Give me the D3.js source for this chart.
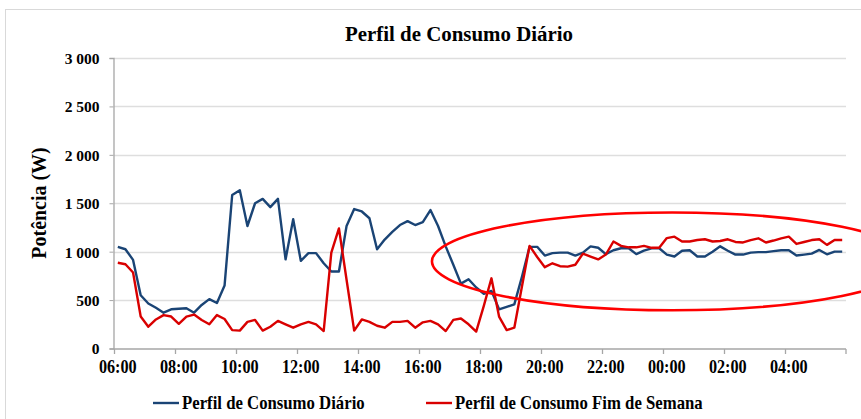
<!DOCTYPE html>
<html>
<head>
<meta charset="utf-8">
<script src="https://cdn.jsdelivr.net/npm/d3@7"></script>
<style>
    body { margin: 0; background: #fff; }
    text { font-family: "Liberation Serif", "Times New Roman", serif; font-weight: bold; fill: #000; }
</style>
</head>
<body>
<div id="chart"></div>
<script>
// 15-minute readings, 06:00 -> 05:45
var times = d3.range(96).map(function (i) {
    var m = (6 * 60 + i * 15) % (24 * 60);
    return d3.format("02d")(Math.floor(m / 60)) + ":" + d3.format("02d")(m % 60);
});

var diario = [
    1050, 1025, 915, 550, 465, 420, 370, 405, 410, 415, 370, 450, 510, 470, 650, 1585,
    1635, 1265, 1500, 1545, 1460, 1545, 920, 1335, 905, 985, 985, 880, 795, 795, 1265, 1440,
    1415, 1345, 1025, 1125, 1205, 1275, 1315, 1275, 1305, 1430, 1265, 1055, 865, 670, 715, 630,
    565, 595, 405, 430, 455, 740, 1050, 1050, 960, 985, 990, 990, 960, 990, 1055, 1040,
    975, 1015, 1035, 1035, 975, 1010, 1035, 1035, 970, 950, 1010, 1015, 950, 950, 1000, 1055,
    1010, 970, 970, 990, 995, 995, 1005, 1015, 1015, 960, 970, 980, 1018, 973, 1000, 1000
];

var fimSemana = [
    885, 870, 785, 330, 225, 300, 345, 330, 255, 330, 350, 295, 250, 345, 305, 190,
    185, 275, 295, 185, 225, 285, 250, 215, 250, 275, 250, 180, 990, 1240, 710, 185,
    300, 275, 235, 215, 275, 275, 285, 215, 270, 285, 250, 180, 295, 310, 250, 175,
    440, 725, 330, 190, 215, 640, 1060, 945, 840, 880, 850, 845, 865, 980, 950, 920,
    970, 1105, 1060, 1045, 1045, 1060, 1040, 1040, 1140, 1155, 1105, 1105, 1120, 1128, 1105, 1110,
    1128, 1100, 1095, 1120, 1138, 1095, 1115, 1138, 1155, 1080, 1100, 1120, 1128, 1070, 1120, 1120
];

var xTickLabels = ["06:00", "08:00", "10:00", "12:00", "14:00", "16:00",
                   "18:00", "20:00", "22:00", "00:00", "02:00", "04:00"];
var yTicks = [0, 500, 1000, 1500, 2000, 2500, 3000];

var seriesNames = ["Perfil de Consumo Diário", "Perfil de Consumo Fim de Semana"];
var seriesColors = ["#1a4475", "#d90000"];

var width = 861, height = 419;

var svg = d3.select("#chart").append("svg")
    .attr("width", width)
    .attr("height", height);

// the reference text looks a bit condensed, so squeeze it horizontally
function squeezed(sel, px, py, sx) {
    return sel.append("text")
        .attr("transform", "translate(" + px + "," + py + ") scale(" + sx + ",1)");
}

// chart area border (cropped at right and bottom)
svg.append("rect")
    .attr("x", 5.5).attr("y", 9.5)
    .attr("width", 900).attr("height", 500)
    .attr("fill", "none")
    .attr("stroke", "#d9d9d9");

var x = d3.scaleBand()
    .domain(times)
    .range([114, 846])
    .paddingInner(0).paddingOuter(0);
var xc = function (t) { return x(t) + x.bandwidth() / 2; };

var y = d3.scaleLinear()
    .domain([0, 3000])
    .range([348.5, 58]);

// gridlines
svg.append("g")
    .selectAll("line")
    .data(yTicks.filter(function (d) { return d > 0; }))
    .enter().append("line")
    .attr("x1", 114).attr("x2", 846)
    .attr("y1", function (d) { return Math.round(y(d)) + 0.5; })
    .attr("y2", function (d) { return Math.round(y(d)) + 0.5; })
    .attr("stroke", "#dedede")
    .attr("stroke-width", 1.3);

// y axis
var fmt = function (d) { return d3.format(",")(d).replace(",", " "); };
var yAxis = svg.append("g")
    .attr("transform", "translate(113.5,0)")
    .call(d3.axisLeft(y).tickValues(yTicks).tickFormat(fmt).tickSize(4).tickPadding(10));
yAxis.select(".domain").attr("stroke", "#a6a6a6").attr("stroke-width", 1.3);
yAxis.selectAll(".tick line").attr("stroke", "#a6a6a6");
yAxis.selectAll("text").style("font-size", "15.5px").attr("dy", "0.35em");

// x axis
var xAxisG = svg.append("g");
xAxisG.append("line")
    .attr("x1", 113.5).attr("x2", 846)
    .attr("y1", 349).attr("y2", 349)
    .attr("stroke", "#a6a6a6").attr("stroke-width", 1.3);

var tickBounds = times.filter(function (d, i) { return i % 8 === 0; });
xAxisG.selectAll(".xtick")
    .data(tickBounds.concat(["end"]))
    .enter().append("line")
    .attr("x1", function (d) { return d === "end" ? 846 : Math.round(x(d)) + 0.5; })
    .attr("x2", function (d) { return d === "end" ? 846 : Math.round(x(d)) + 0.5; })
    .attr("y1", 349).attr("y2", 354)
    .attr("stroke", "#a6a6a6").attr("stroke-width", 1.3);

xTickLabels.forEach(function (d) {
    squeezed(xAxisG, xc(d), 373, 0.9)
        .attr("text-anchor", "middle")
        .style("font-size", "18px")
        .text(d);
});

// lines
var line = d3.line()
    .x(function (d, i) { return xc(times[i]); })
    .y(function (d) { return y(d); });

[diario, fimSemana].forEach(function (s, k) {
    svg.append("path")
        .datum(s)
        .attr("d", line)
        .attr("fill", "none")
        .attr("stroke", seriesColors[k])
        .attr("stroke-width", 2.4)
        .attr("stroke-linejoin", "round");
});

// highlight ellipse (in data units: centre index / watts, radii)
var ellipse = {ci: 72.7, cv: 900, ri: 31.5, rv: 505};
var step = x.step();
svg.append("ellipse")
    .attr("cx", xc(times[0]) + ellipse.ci * step)
    .attr("cy", y(ellipse.cv))
    .attr("rx", ellipse.ri * step)
    .attr("ry", y(0) - y(ellipse.rv))
    .attr("fill", "none")
    .attr("stroke", "#ff0000")
    .attr("stroke-width", 2.6);

// title
squeezed(svg, 459, 41, 0.95)
    .attr("text-anchor", "middle")
    .style("font-size", "22px")
    .text("Perfil de Consumo Diário");

// y title
svg.append("text")
    .attr("transform", "translate(46,203) rotate(-90) scale(0.95,1)")
    .attr("text-anchor", "middle")
    .style("font-size", "21px")
    .text("Potência (W)");

// legend
var legendX = [153, 426];
seriesNames.forEach(function (name, i) {
    var g = svg.append("g")
        .attr("class", "legend")
        .attr("transform", "translate(" + legendX[i] + ",403)");
    g.append("line")
        .attr("x1", 0).attr("x2", 26)
        .attr("y1", 0).attr("y2", 0)
        .attr("stroke", seriesColors[i])
        .attr("stroke-width", 2.4);
    squeezed(g, 29, 6, 0.93)
        .style("font-size", "18px")
        .text(name);
});
</script>
</body>
</html>
